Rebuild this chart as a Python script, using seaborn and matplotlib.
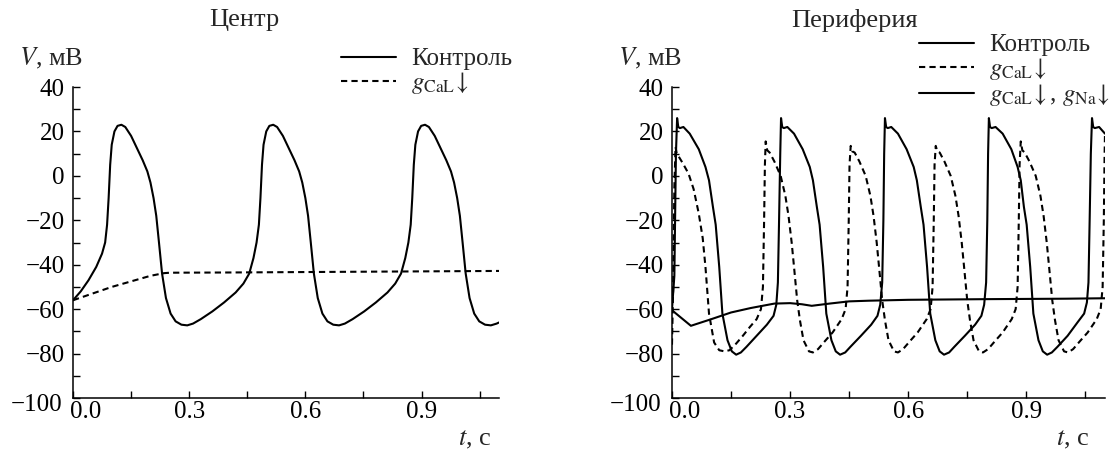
import numpy as np
import pandas as pd
import matplotlib
matplotlib.use("Agg")
import matplotlib.pyplot as plt
import matplotlib.transforms as mtransforms
from matplotlib.ticker import MultipleLocator, FormatStrFormatter
import seaborn as sns

sns.set_style("ticks")
plt.rcParams["font.family"] = ["Liberation Serif", "DejaVu Serif"]
plt.rcParams["mathtext.fontset"] = "stix"
plt.rcParams["font.size"] = 18

# ---- Центр ----
left_t_ctrl = [0.000, 0.020, 0.040, 0.060, 0.075, 0.083, 0.088, 0.092, 0.096, 0.100, 0.107, 0.115,
               0.125, 0.135, 0.150, 0.165, 0.180, 0.192, 0.200, 0.208, 0.215, 0.222, 0.230, 0.240,
               0.252, 0.265, 0.280, 0.295, 0.310, 0.330, 0.360, 0.390, 0.420, 0.440, 0.455, 0.466,
               0.474, 0.480, 0.484, 0.488, 0.492, 0.499, 0.507,
               0.517, 0.527, 0.542, 0.557, 0.572, 0.584, 0.592, 0.600, 0.607, 0.614, 0.622, 0.632,
               0.644, 0.657, 0.672, 0.687, 0.702, 0.722, 0.752, 0.782, 0.812, 0.832, 0.847, 0.858,
               0.866, 0.872, 0.876, 0.880, 0.884, 0.891, 0.899,
               0.909, 0.919, 0.934, 0.949, 0.964, 0.976, 0.984, 0.992, 0.999, 1.006, 1.014, 1.024,
               1.036, 1.049, 1.064, 1.079, 1.094, 1.100]
left_v_ctrl = [-56, -52, -47, -41, -35, -30, -22, -10, 5, 14, 20, 22.5,
               23, 22, 18, 12.5, 7, 2, -3, -10, -18, -30, -44, -55,
               -62, -65.5, -67, -67.3, -66.5, -64.5, -61, -57, -52.5, -48.5, -44, -37,
               -30, -22, -10, 5, 14, 20, 22.5,
               23, 22, 18, 12.5, 7, 2, -3, -10, -18, -30, -44, -55,
               -62, -65.5, -67, -67.3, -66.5, -64.5, -61, -57, -52.5, -48.5, -44, -37,
               -30, -22, -10, 5, 14, 20, 22.5,
               23, 22, 18, 12.5, 7, 2, -3, -10, -18, -30, -44, -55,
               -62, -65.5, -67, -67.3, -66.5, -66]

left_t_cal = [0.00, 0.05, 0.10, 0.15, 0.20, 0.235, 0.25, 0.40, 0.60, 0.80, 1.10]
left_v_cal = [-56, -53, -50, -47.5, -45, -43.8, -43.6, -43.5, -43.3, -43.1, -42.8]

# ---- Периферия ----
right_t_ctrl = [0.000, 0.006, 0.010, 0.013, 0.016, 0.020, 0.029, 0.045, 0.068, 0.085, 0.094, 0.104,
                0.111, 0.120, 0.128, 0.141, 0.152, 0.163, 0.175, 0.189, 0.215, 0.241, 0.258, 0.265,
                0.269, 0.272, 0.275,
                0.277, 0.280, 0.284, 0.293, 0.310, 0.332, 0.350, 0.358, 0.368, 0.375, 0.384, 0.392,
                0.405, 0.416, 0.427, 0.440, 0.453, 0.480, 0.506, 0.522, 0.529, 0.534, 0.537, 0.539,
                0.541, 0.544, 0.548, 0.557, 0.574, 0.596, 0.614, 0.622, 0.632, 0.639, 0.648, 0.656,
                0.669, 0.680, 0.691, 0.704, 0.717, 0.744, 0.770, 0.786, 0.793, 0.798, 0.801, 0.803,
                0.805, 0.808, 0.812, 0.822, 0.840, 0.862, 0.878, 0.886, 0.894, 0.901, 0.910, 0.918,
                0.931, 0.942, 0.953, 0.965, 0.979, 1.005, 1.030, 1.047, 1.054, 1.058, 1.061, 1.064,
                1.067, 1.070, 1.074, 1.085, 1.100]
right_v_ctrl = [-60, -45, 10, 26, 22, 21.5, 22, 19, 12, 4, -2, -14,
                -22, -41, -62, -74, -79, -80.5, -79.5, -77, -72, -67, -63, -58,
                -48, -20, 10,
                26, 22, 21.5, 22, 19, 12, 4, -2, -14, -22, -41, -62,
                -74, -79, -80.5, -79.5, -77, -72, -67, -63, -58, -48, -20, 10,
                26, 22, 21.5, 22, 19, 12, 4, -2, -14, -22, -41, -62,
                -74, -79, -80.5, -79.5, -77, -72, -67, -63, -58, -48, -20, 10,
                26, 22, 21.5, 22, 19, 12, 4, -2, -14, -22, -41, -62,
                -74, -79, -80.5, -79.5, -77, -72, -66, -62, -57, -48, -20, 10,
                26, 22, 21.5, 22, 19]

right_t_cal = [0.000, 0.003, 0.006, 0.009, 0.012, 0.016, 0.028, 0.042, 0.055, 0.068, 0.078, 0.085,
               0.094, 0.107, 0.120, 0.133, 0.146, 0.163, 0.180, 0.198, 0.215, 0.226, 0.231, 0.234,
               0.236,
               0.238, 0.242, 0.248, 0.260, 0.276, 0.288, 0.296, 0.304, 0.310, 0.318, 0.325, 0.334,
               0.348, 0.358, 0.371, 0.388, 0.408, 0.431, 0.441, 0.446, 0.449, 0.451,
               0.454, 0.458, 0.464, 0.476, 0.492, 0.504, 0.512, 0.520, 0.526, 0.534, 0.541, 0.550,
               0.564, 0.574, 0.587, 0.604, 0.624, 0.647, 0.657, 0.662, 0.665, 0.667,
               0.670, 0.674, 0.680, 0.692, 0.708, 0.720, 0.728, 0.736, 0.742, 0.750, 0.757, 0.766,
               0.780, 0.790, 0.803, 0.820, 0.840, 0.863, 0.873, 0.878, 0.881, 0.883,
               0.886, 0.890, 0.896, 0.908, 0.924, 0.936, 0.944, 0.952, 0.958, 0.966, 0.973, 0.982,
               0.996, 1.006, 1.019, 1.036, 1.056, 1.079, 1.089, 1.094, 1.097, 1.099, 1.100]
right_v_cal = [-76, -50, -5, 13, 10, 9, 5.5, 1, -6, -17, -28, -41,
               -62, -75, -78.5, -79, -78.5, -75.5, -72, -68, -64.5, -60, -50, -20,
               5,
               15.5, 11.5, 10.5, 6.5, 0, -9, -18, -30, -41, -56, -65, -74,
               -79, -79.5, -78, -74.5, -70.5, -64.5, -60, -50, -20, 5,
               13.5, 11, 10.5, 6.5, 0, -9, -18, -30, -41, -56, -65, -74,
               -79, -79.5, -78, -74.5, -70.5, -64.5, -60, -50, -20, 5,
               13.5, 11, 10.5, 6.5, 0, -9, -18, -30, -41, -56, -65, -74,
               -79, -79.5, -78, -74.5, -70.5, -64.5, -60, -50, -20, 5,
               15.5, 11.5, 10.5, 6.5, 0, -9, -18, -30, -41, -56, -65, -74,
               -79, -79.5, -78, -74.5, -70.5, -64.5, -60, -50, -20, 10, 19]

right_t_na = [0.000, 0.048, 0.100, 0.150, 0.200, 0.260, 0.300, 0.330, 0.355, 0.400, 0.450, 0.500,
              0.600, 0.800, 1.000, 1.100]
right_v_na = [-60.5, -67.5, -64.5, -61.5, -59.5, -57.5, -57.3, -57.8, -58.5, -57.5, -56.5, -56.2,
              -55.8, -55.5, -55.3, -55.1]

x_ticks = [0.0, 0.3, 0.6, 0.9]
y_ticks = [-100, -80, -60, -40, -20, 0, 20, 40]

lab_ctrl = "Контроль"
lab_cal = r"$g_{\mathrm{CaL}}\!\downarrow$"
lab_na = r"$g_{\mathrm{CaL}}\!\downarrow$, $g_{\mathrm{Na}}\!\downarrow$"
dash = (0, (3.0, 2.0))
lw = 1.5
fs = 19

fig = plt.figure(figsize=(11.18, 4.5), dpi=100)
ax1 = fig.add_axes([73 / 1118, 52 / 450, 426 / 1118, 311 / 450])
ax2 = fig.add_axes([672 / 1118, 52 / 450, 433 / 1118, 311 / 450])

sns.lineplot(x=left_t_ctrl, y=left_v_ctrl, ax=ax1, color="black", lw=lw, sort=False, label=lab_ctrl)
sns.lineplot(x=left_t_cal, y=left_v_cal, ax=ax1, color="black", lw=lw, sort=False,
             linestyle=dash, label=lab_cal)

sns.lineplot(x=right_t_ctrl, y=right_v_ctrl, ax=ax2, color="black", lw=lw, sort=False, label=lab_ctrl)
sns.lineplot(x=right_t_cal, y=right_v_cal, ax=ax2, color="black", lw=lw, sort=False,
             linestyle=dash, label=lab_cal)
sns.lineplot(x=right_t_na, y=right_v_na, ax=ax2, color="black", lw=lw, sort=False, label=lab_na)

for ax, tx in [(ax1, -8), (ax2, -16)]:
    ax.set_xlim(0, 1.1)
    ax.set_ylim(-100, 40)
    ax.set_xticks(x_ticks)
    ax.set_yticks(y_ticks)
    ax.xaxis.set_minor_locator(MultipleLocator(0.15))
    ax.yaxis.set_minor_locator(MultipleLocator(10))
    ax.xaxis.set_major_formatter(FormatStrFormatter("%.1f"))
    ax.tick_params(which="both", direction="in", length=5, width=1, colors="black")
    ax.tick_params(axis="y", pad=6)
    ax.tick_params(axis="x", pad=2)
    ax.tick_params(labelsize=18)
    for s in ["top", "right"]:
        ax.spines[s].set_visible(False)
    for s in ["left", "bottom"]:
        ax.spines[s].set_linewidth(1.1)
        ax.spines[s].set_color("black")
    ax.set_xlabel("")
    ax.set_ylabel("")
    ax.annotate("$V$, мВ", xy=(0, 1), xycoords="axes fraction", xytext=(10, 29),
                textcoords="offset pixels", ha="right", va="center", fontsize=fs)
    ax.annotate("$t$, с", xy=(1, 0), xycoords="axes fraction", xytext=(tx, -42),
                textcoords="offset pixels", ha="right", va="center", fontsize=fs)

fig.canvas.draw()
# corner labels pushed apart, as in the original figure
for ax in [ax1, ax2]:
    lab0 = ax.xaxis.get_major_ticks()[0].label1
    lab0.set_transform(lab0.get_transform() + mtransforms.ScaledTranslation(13 / 100, 0, fig.dpi_scale_trans))
    lab100 = ax.yaxis.get_major_ticks()[0].label1
    lab100.set_transform(lab100.get_transform() + mtransforms.ScaledTranslation(-2 / 100, -4 / 100, fig.dpi_scale_trans))

leg_kw = dict(frameon=False, fontsize=18, handlelength=2.2, handletextpad=0.6,
              borderpad=0, borderaxespad=0, labelspacing=0.0, loc="upper left")
ax1.legend(bbox_to_anchor=(341 / 1118, 1 - 48 / 450), bbox_transform=fig.transFigure, **leg_kw)
ax2.legend(bbox_to_anchor=(919 / 1118, 1 - 34 / 450), bbox_transform=fig.transFigure, **leg_kw)

fig.text(244 / 1118, 1 - 20 / 450, "Центр", ha="center", va="center", fontsize=fs)
fig.text(855 / 1118, 1 - 20 / 450, "Периферия", ha="center", va="center", fontsize=fs)

fig.savefig("out.png", dpi=100)
